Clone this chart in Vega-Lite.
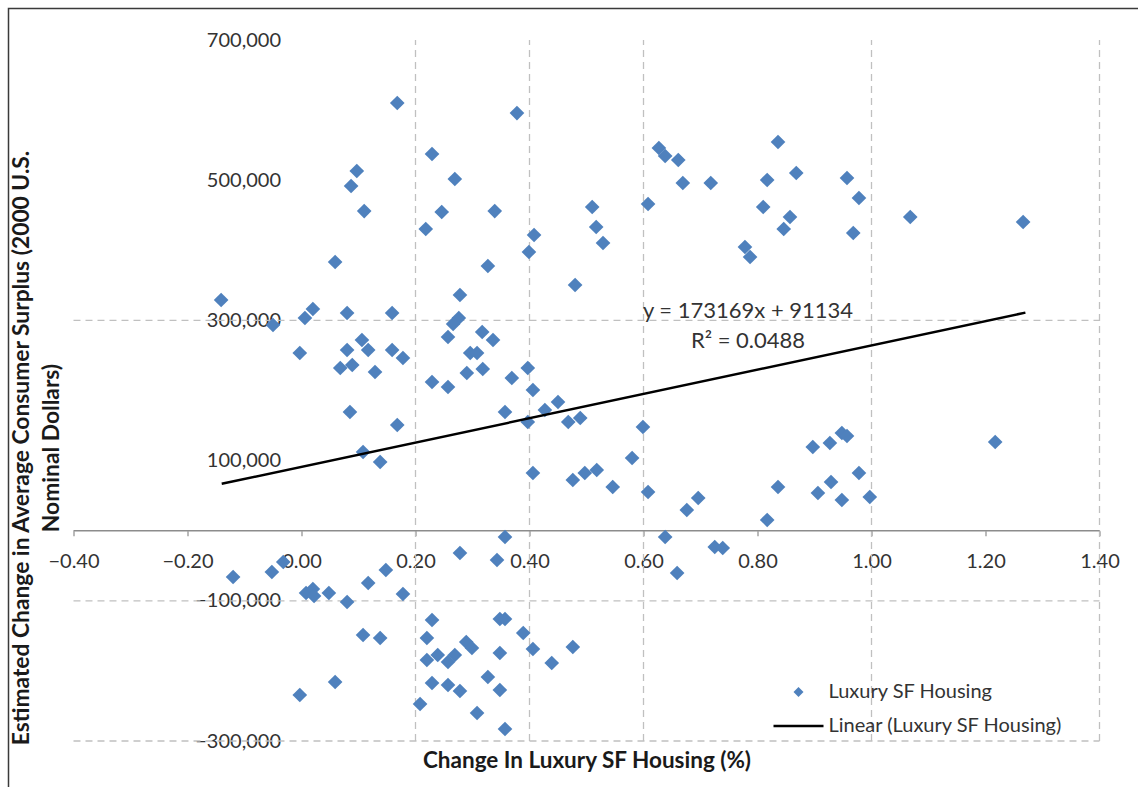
{
  "$schema": "https://vega.github.io/schema/vega-lite/v6.json",
  "width": 1141.5,
  "height": 790.5,
  "autosize": {"type": "none"},
  "padding": {"left": 8.5, "top": 8.5, "right": -12, "bottom": -12},
  "background": "white",
  "config": {
    "view": {"stroke": "#3A3A3A", "strokeWidth": 1.5},
    "font": "Lato"
  },
  "datasets": {
    "housing": [
      {"pct": 0.080, "cs": 310500}, {"pct": 0.106, "cs": 272000}, {"pct": 0.117, "cs": 257800},
      {"pct": 0.080, "cs": 257800}, {"pct": 0.159, "cs": 257800}, {"pct": 0.159, "cs": 310500},
      {"pct": 0.068, "cs": 232100}, {"pct": 0.089, "cs": 236400}, {"pct": 0.129, "cs": 226400},
      {"pct": 0.085, "cs": 169300}, {"pct": 0.168, "cs": 150800}, {"pct": 0.108, "cs": 112300},
      {"pct": 0.138, "cs": 98000}, {"pct": -0.003, "cs": 253500}, {"pct": 0.006, "cs": 303400},
      {"pct": 0.020, "cs": 316300}, {"pct": -0.050, "cs": 293400}, {"pct": -0.141, "cs": 329100},
      {"pct": 0.278, "cs": 336200}, {"pct": 0.480, "cs": 350500}, {"pct": 0.276, "cs": 303400},
      {"pct": 0.266, "cs": 294900}, {"pct": 0.257, "cs": 276300}, {"pct": 0.317, "cs": 283400},
      {"pct": 0.336, "cs": 272000}, {"pct": 0.178, "cs": 246400}, {"pct": 0.296, "cs": 253500},
      {"pct": 0.308, "cs": 253500}, {"pct": 0.397, "cs": 232100}, {"pct": 0.229, "cs": 212100},
      {"pct": 0.257, "cs": 205000}, {"pct": 0.290, "cs": 225000}, {"pct": 0.318, "cs": 230700},
      {"pct": 0.369, "cs": 217800}, {"pct": 0.406, "cs": 200700}, {"pct": 0.450, "cs": 183600},
      {"pct": 0.427, "cs": 172200}, {"pct": 0.357, "cs": 169300}, {"pct": 0.397, "cs": 155100},
      {"pct": 0.468, "cs": 155100}, {"pct": 0.489, "cs": 160800}, {"pct": 0.599, "cs": 147900},
      {"pct": 0.580, "cs": 103700}, {"pct": 0.406, "cs": 82300}, {"pct": 0.476, "cs": 72300},
      {"pct": 0.497, "cs": 82300}, {"pct": 0.518, "cs": 86600}, {"pct": 0.546, "cs": 62300},
      {"pct": 0.608, "cs": 55200}, {"pct": 0.676, "cs": 29500}, {"pct": 0.696, "cs": 46600},
      {"pct": 0.817, "cs": 15300}, {"pct": 0.836, "cs": 62300}, {"pct": 0.357, "cs": -9000},
      {"pct": 0.638, "cs": -9000}, {"pct": 0.725, "cs": -23300}, {"pct": 0.739, "cs": -24700},
      {"pct": 0.278, "cs": -31800}, {"pct": 0.343, "cs": -41800}, {"pct": 0.229, "cs": 537400},
      {"pct": 0.378, "cs": 595800}, {"pct": 0.269, "cs": 501700}, {"pct": 0.246, "cs": 454600},
      {"pct": 0.339, "cs": 456000}, {"pct": 0.218, "cs": 430400}, {"pct": 0.408, "cs": 421800},
      {"pct": 0.399, "cs": 397600}, {"pct": 0.327, "cs": 377600}, {"pct": 0.510, "cs": 461800},
      {"pct": 0.517, "cs": 433200}, {"pct": 0.529, "cs": 410400}, {"pct": 0.608, "cs": 466000},
      {"pct": 0.627, "cs": 545900}, {"pct": 0.638, "cs": 534500}, {"pct": 0.661, "cs": 528800},
      {"pct": 0.669, "cs": 496000}, {"pct": 0.718, "cs": 496000}, {"pct": 0.778, "cs": 404700},
      {"pct": 0.787, "cs": 390400}, {"pct": 0.810, "cs": 461800}, {"pct": 0.817, "cs": 500300},
      {"pct": 0.836, "cs": 554500}, {"pct": 0.168, "cs": 610100}, {"pct": 0.097, "cs": 513100},
      {"pct": 0.087, "cs": 491700}, {"pct": 0.110, "cs": 456000}, {"pct": 0.059, "cs": 383300},
      {"pct": 0.868, "cs": 510300}, {"pct": 0.857, "cs": 447500}, {"pct": 0.846, "cs": 430400},
      {"pct": 0.957, "cs": 503100}, {"pct": 0.978, "cs": 474600}, {"pct": 0.968, "cs": 424700},
      {"pct": 1.068, "cs": 447500}, {"pct": 1.266, "cs": 440400}, {"pct": 0.897, "cs": 119400},
      {"pct": 0.927, "cs": 125100}, {"pct": 0.948, "cs": 139400}, {"pct": 0.957, "cs": 135100},
      {"pct": 0.906, "cs": 53800}, {"pct": 0.929, "cs": 69500}, {"pct": 0.948, "cs": 43800},
      {"pct": 0.978, "cs": 82300}, {"pct": 0.997, "cs": 48100}, {"pct": 1.217, "cs": 126500},
      {"pct": -0.120, "cs": -66000}, {"pct": -0.052, "cs": -58900}, {"pct": -0.032, "cs": -44700},
      {"pct": 0.008, "cs": -88900}, {"pct": 0.020, "cs": -83200}, {"pct": 0.022, "cs": -93200},
      {"pct": 0.048, "cs": -88900}, {"pct": 0.080, "cs": -101700}, {"pct": 0.117, "cs": -74600},
      {"pct": 0.148, "cs": -56100}, {"pct": 0.178, "cs": -90300}, {"pct": 0.108, "cs": -148800},
      {"pct": 0.138, "cs": -153100}, {"pct": -0.003, "cs": -234400}, {"pct": 0.059, "cs": -215800},
      {"pct": 0.659, "cs": -60300}, {"pct": 0.229, "cs": -127400}, {"pct": 0.220, "cs": -153100},
      {"pct": 0.220, "cs": -184400}, {"pct": 0.239, "cs": -177300}, {"pct": 0.257, "cs": -187300},
      {"pct": 0.269, "cs": -177300}, {"pct": 0.289, "cs": -158800}, {"pct": 0.299, "cs": -167300},
      {"pct": 0.348, "cs": -126000}, {"pct": 0.357, "cs": -126000}, {"pct": 0.389, "cs": -145900},
      {"pct": 0.406, "cs": -168800}, {"pct": 0.439, "cs": -188700}, {"pct": 0.476, "cs": -165900},
      {"pct": 0.348, "cs": -174500}, {"pct": 0.229, "cs": -217300}, {"pct": 0.257, "cs": -220100},
      {"pct": 0.278, "cs": -228700}, {"pct": 0.327, "cs": -208700}, {"pct": 0.348, "cs": -227200},
      {"pct": 0.208, "cs": -247200}, {"pct": 0.308, "cs": -260000}, {"pct": 0.357, "cs": -282900}
    ],
    "trend": [
      {"pct": -0.14, "cs": 66890},
      {"pct": 1.27, "cs": 311059}
    ],
    "vgrid": [
      {"pct": 0.2, "cs": -300000, "cs2": 700000},
      {"pct": 0.4, "cs": -300000, "cs2": 700000},
      {"pct": 0.6, "cs": -300000, "cs2": 700000},
      {"pct": 1.0, "cs": -300000, "cs2": 700000},
      {"pct": 1.4, "cs": -300000, "cs2": 700000}
    ],
    "hgrid": [
      {"cs": 300000, "pct": -0.4, "pct2": 1.4},
      {"cs": -100000, "pct": -0.4, "pct2": 1.4},
      {"cs": -300000, "pct": -0.4, "pct2": 1.4}
    ],
    "baseline": [
      {"cs": 0, "pct": -0.4, "pct2": 1.4}
    ],
    "equation": [
      {"pct": 0.7833, "cs": 313400, "eq": "y = 173169x + 91134\nR² = 0.0488"}
    ]
  },
  "encoding": {
    "x": {
      "field": "pct",
      "type": "quantitative",
      "scale": {"domain": [-0.514035, 1.488597], "nice": false, "zero": false},
      "axis": {
        "values": [-0.4, -0.2, 0, 0.2, 0.4, 0.6, 0.8, 1.0, 1.2, 1.4],
        "format": ".2f",
        "offset": -268.3,
        "grid": false,
        "domain": false,
        "labelFlush": false,
        "tickColor": "#8C8C8C",
        "tickWidth": 1.2,
        "tickSize": 5,
        "labelPadding": 16,
        "labelFont": "Lato",
        "labelFontSize": 20,
        "labelColor": "#333333",
        "title": "Change In Luxury SF Housing (%)",
        "titleFont": "Lato",
        "titleFontSize": 22.5,
        "titleFontWeight": "bold",
        "titleColor": "#1A1A1A",
        "titleX": 578,
        "titleY": 229.3,
        "titleBaseline": "middle"
      }
    },
    "y": {
      "field": "cs",
      "type": "quantitative",
      "scale": {"domain": [-382739, 744936], "nice": false, "zero": false},
      "axis": {
        "values": [-300000, -100000, 100000, 300000, 500000, 700000],
        "format": ",.0f",
        "offset": -293,
        "grid": false,
        "domain": false,
        "ticks": false,
        "labelPadding": 21,
        "labelFont": "Lato",
        "labelFontSize": 20,
        "labelColor": "#333333",
        "title": ["Estimated Change in Average Consumer Surplus (2000 U.S.", "Nominal Dollars)"],
        "titleFont": "Lato",
        "titleFontSize": 22.8,
        "titleFontWeight": "bold",
        "titleColor": "#1A1A1A",
        "titleLineHeight": 30,
        "titleX": -280.5,
        "titleY": 439,
        "titleBaseline": "middle"
      }
    }
  },
  "layer": [
    {
      "data": {"name": "vgrid"},
      "mark": {"type": "rule", "color": "#C0C0C0", "strokeWidth": 1.3, "strokeDash": [7, 5]},
      "encoding": {
        "y2": {"field": "cs2"}
      }
    },
    {
      "data": {"name": "hgrid"},
      "mark": {"type": "rule", "color": "#C0C0C0", "strokeWidth": 1.3, "strokeDash": [7, 5]},
      "encoding": {
        "x2": {"field": "pct2"}
      }
    },
    {
      "data": {"name": "baseline"},
      "mark": {"type": "rule", "color": "#8C8C8C", "strokeWidth": 1.5},
      "encoding": {
        "x2": {"field": "pct2"}
      }
    },
    {
      "data": {"name": "housing"},
      "mark": {"type": "point", "filled": true, "size": 215, "opacity": 1},
      "encoding": {
        "color": {
          "datum": "Luxury SF Housing",
          "type": "nominal",
          "scale": {
            "domain": ["Luxury SF Housing", "Linear (Luxury SF Housing)"],
            "range": ["#4F81BD", "#000000"]
          },
          "legend": {
            "orient": "none",
            "legendX": 780,
            "legendY": 673.5,
            "title": null,
            "labelFont": "Lato",
            "labelFontSize": 20,
            "labelColor": "#333333",
            "labelOffset": 20,
            "labelLimit": 400,
            "rowPadding": 14,
            "symbolSize": 100,
            "symbolStrokeWidth": 0
          }
        },
        "shape": {
          "datum": "Luxury SF Housing",
          "type": "nominal",
          "scale": {
            "domain": ["Luxury SF Housing", "Linear (Luxury SF Housing)"],
            "range": ["diamond", "M-5,-0.25H5V0.25H-5Z"]
          },
          "legend": {
            "orient": "none",
            "legendX": 780,
            "legendY": 673.5,
            "title": null,
            "labelFont": "Lato",
            "labelFontSize": 20,
            "labelColor": "#333333",
            "labelOffset": 20,
            "labelLimit": 400,
            "rowPadding": 14,
            "symbolSize": 100,
            "symbolStrokeWidth": 0
          }
        }
      }
    },
    {
      "data": {"name": "trend"},
      "mark": {"type": "line", "strokeWidth": 2.5},
      "encoding": {
        "color": {"datum": "Linear (Luxury SF Housing)", "type": "nominal"}
      }
    },
    {
      "data": {"name": "equation"},
      "mark": {
        "type": "text",
        "lineBreak": "\n",
        "lineHeight": 30,
        "align": "center",
        "baseline": "middle",
        "font": "Lato",
        "fontSize": 22,
        "color": "#333333"
      },
      "encoding": {
        "text": {"field": "eq"}
      }
    }
  ]
}
